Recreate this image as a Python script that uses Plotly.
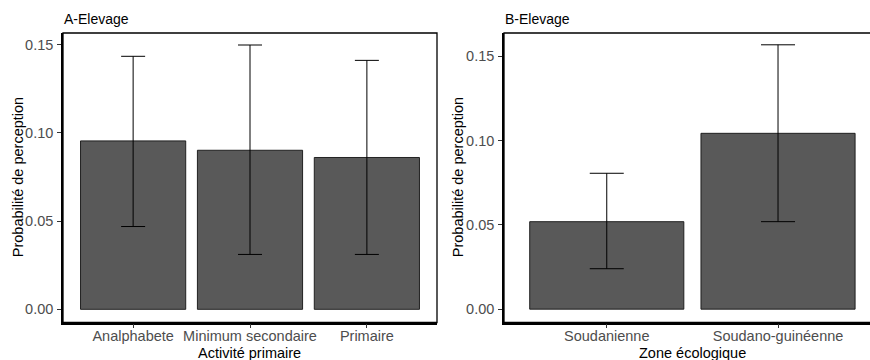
import plotly.graph_objects as go

# Panel A data
cat_a = ["Analphabete", "Minimum secondaire", "Primaire"]
prob_a = [0.0954, 0.0901, 0.0860]
low_a = [0.0469, 0.0311, 0.0311]
high_a = [0.1433, 0.1497, 0.1410]

# Panel B data
cat_b = ["Soudanienne", "Soudano-guinéenne"]
prob_b = [0.0519, 0.1043]
low_b = [0.0240, 0.0519]
high_b = [0.0806, 0.1568]

yticks = [0.00, 0.05, 0.10, 0.15]
ytick_text = ["0.00", "0.05", "0.10", "0.15"]

FILL = "#595959"
FONT = "Liberation Sans, Arial, sans-serif"
W, H = 870, 360

fig = go.Figure()

def add_bars(cats, vals, lo, hi, xa, ya, capw):
    fig.add_trace(go.Bar(
        x=cats, y=vals, width=0.9,
        marker=dict(color=FILL, line=dict(color="rgba(20,20,20,0.9)", width=1)),
        error_y=dict(type="data", symmetric=False,
                     array=[h - v for h, v in zip(hi, vals)],
                     arrayminus=[v - l for v, l in zip(vals, lo)],
                     color="black", thickness=1, width=capw),
        xaxis=xa, yaxis=ya, showlegend=False, hoverinfo="skip"))

add_bars(cat_a, prob_a, low_a, high_a, "x", "y", 12)
add_bars(cat_b, prob_b, low_b, high_b, "x2", "y2", 17)

ydom = [1 - 322.5 / H, 1 - 33 / H]
axis_common = dict(showgrid=False, zeroline=False, showline=True, linecolor="black",
                   linewidth=1.5, ticks="outside", ticklen=4, tickwidth=1,
                   tickcolor="#333333", tickfont=dict(family=FONT, size=14.5, color="#4D4D4D"))

fig.update_layout(
    width=W, height=H, margin=dict(l=0, r=0, t=0, b=0),
    paper_bgcolor="white", plot_bgcolor="white",
    bargap=0.1,
    xaxis=dict(domain=[63 / W, 437 / W], range=[-0.6, 2.6], anchor="y",
               ticklabelstandoff=-5, **axis_common),
    yaxis=dict(domain=ydom, range=[-0.00745, 0.1565], tickvals=yticks, ticktext=ytick_text,
               anchor="x", ticklabelstandoff=1, **axis_common),
    xaxis2=dict(domain=[504 / W, 1.0], range=[-0.6, 1.537], anchor="y2",
                ticklabelstandoff=-5, **axis_common),
    yaxis2=dict(domain=ydom, range=[-0.0079, 0.1638], tickvals=yticks, ticktext=ytick_text,
                anchor="x2", ticklabelstandoff=1, **axis_common),
)

# panel borders (right panel extends past the visible edge)
for xr, yr, x1 in [("x domain", "y domain", 1), ("x2 domain", "y2 domain", 1.03)]:
    fig.add_shape(type="rect", xref=xr, yref=yr, x0=0, x1=x1, y0=0, y1=1,
                  line=dict(color="black", width=1.3), fillcolor="rgba(0,0,0,0)", layer="above")

ann = []
tfont = dict(family=FONT, size=14.5, color="black")
ann.append(dict(text="A-Elevage", x=62 / W, y=1 - 19 / H, xanchor="left", yanchor="middle",
                font=dict(family=FONT, size=14, color="black")))
ann.append(dict(text="B-Elevage", x=503 / W, y=1 - 19 / H, xanchor="left", yanchor="middle",
                font=dict(family=FONT, size=14, color="black")))
ann.append(dict(text="Activité primaire", x=250 / W, y=1 - 353 / H, xanchor="center",
                yanchor="middle", font=tfont))
ann.append(dict(text="Zone écologique", x=692 / W, y=1 - 353 / H, xanchor="center",
                yanchor="middle", font=tfont))
ann.append(dict(text="Probabilité de perception", x=17.5 / W, y=(ydom[0] + ydom[1]) / 2,
                xanchor="center", yanchor="middle", textangle=-90, font=tfont))
ann.append(dict(text="Probabilité de perception", x=457.5 / W, y=(ydom[0] + ydom[1]) / 2,
                xanchor="center", yanchor="middle", textangle=-90, font=tfont))
for a in ann:
    a.update(xref="paper", yref="paper", showarrow=False)
fig.update_layout(annotations=ann)

fig.write_html("out.html", config={"displayModeBar": False},
               post_script="document.body.style.margin='0';document.body.style.overflow='hidden';")
